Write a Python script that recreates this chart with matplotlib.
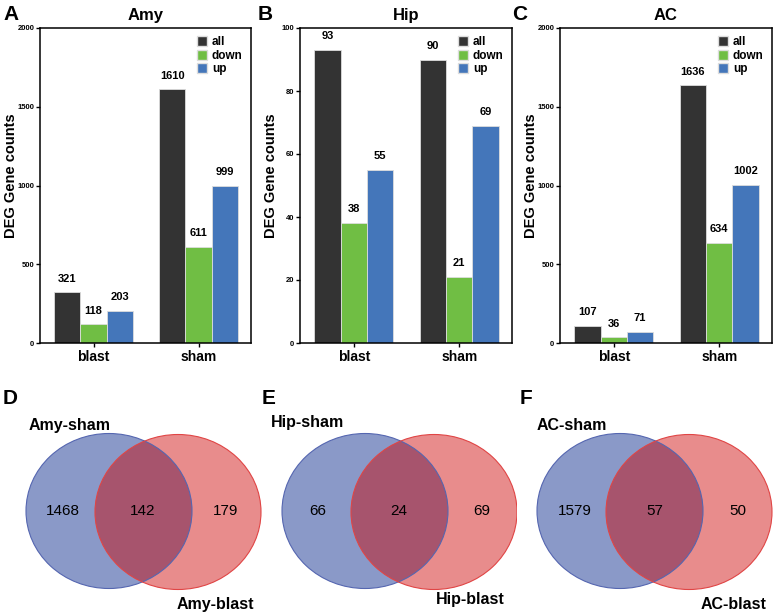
import numpy as np
import matplotlib
matplotlib.use("Agg")
import matplotlib.pyplot as plt
from matplotlib.patches import Ellipse, Patch

plt.rcParams['font.family'] = ['Liberation Sans', 'DejaVu Sans']

groups = ["blast", "sham"]
series = ["all", "down", "up"]
amy = {"all": [321, 1610], "down": [118, 611], "up": [203, 999]}
hip = {"all": [93, 90], "down": [38, 21], "up": [55, 69]}
ac = {"all": [107, 1636], "down": [36, 634], "up": [71, 1002]}
bar_titles = ["Amy", "Hip", "AC"]
bar_ylims = [2000, 100, 2000]
bar_ticks = [[0, 500, 1000, 1500, 2000], [0, 20, 40, 60, 80, 100], [0, 500, 1000, 1500, 2000]]

venn_names = [("Amy-sham", "Amy-blast"), ("Hip-sham", "Hip-blast"), ("AC-sham", "AC-blast")]
venn_counts = [(1468, 142, 179), (66, 24, 69), (1579, 57, 50)]

colors = {"all": "#333333", "down": "#70BE44", "up": "#4476BA"}
W, H = 777, 614
fig = plt.figure(figsize=(W / 100, H / 100), dpi=100)

def px_axes(x0, y0, x1, y1):
    return fig.add_axes([x0 / W, (H - y1) / H, (x1 - x0) / W, (y1 - y0) / H])

bar_boxes = [(40, 28, 251, 343), (300, 28, 512, 343), (560, 28, 772, 343)]
letters_top = ["A", "B", "C"]
letter_x = [3, 258, 512]
x = np.arange(len(groups))
wd = 0.25
for i, data in enumerate([amy, hip, ac]):
    ax = px_axes(*bar_boxes[i])
    for j, s in enumerate(series):
        xs = x + (j - 1) * wd
        ax.bar(xs, data[s], width=wd, color=colors[s], edgecolor="#dddddd",
               linewidth=0.6, label=s)
        for xx, v in zip(xs, data[s]):
            ax.text(xx, v + bar_ylims[i] * 0.028, str(v), ha="center", va="bottom",
                    fontsize=8, fontweight="bold")
    ax.set_xlim(-0.51, 1.5)
    ax.set_ylim(0, bar_ylims[i])
    ax.set_yticks(bar_ticks[i])
    ax.set_xticks(x)
    ax.set_xticklabels(groups, fontsize=10, fontweight="bold")
    for lab in ax.get_yticklabels():
        lab.set_fontsize(5.5)
        lab.set_fontweight("bold")
    ax.tick_params(axis="y", length=3, width=1, pad=1)
    ax.tick_params(axis="x", length=3, width=1, pad=2)
    for sp in ax.spines.values():
        sp.set_linewidth(1.1)
    ax.set_ylabel("DEG Gene counts", fontsize=10.5, fontweight="bold", labelpad=1)
    ax.yaxis.set_label_coords(-0.105, 0.53)
    ax.set_title(bar_titles[i], fontsize=12, fontweight="bold", pad=6)
    handles = [Patch(facecolor=colors[s], edgecolor="#dddddd", label=s) for s in series]
    ax.legend(handles=handles, loc="upper right", frameon=False,
              prop={"weight": "bold", "size": 8.5}, handlelength=0.9, handleheight=0.9,
              handletextpad=0.4, labelspacing=0.12, borderaxespad=0.3)
    fig.text(letter_x[i] / W, 1 - 14 / H, letters_top[i], fontsize=15, fontweight="bold",
             va="center", ha="left")

venn_boxes = [(0, 380, 262, 614), (255, 380, 517, 614), (510, 380, 777, 614)]
venn_geo = [
    dict(b=(109, 511), r=(178, 512), sham=(70, 426), blast=(215, 605), n=(63, 143, 226)),
    dict(b=(365, 511), r=(434, 512), sham=(307, 423), blast=(470, 600), n=(318, 399, 482)),
    dict(b=(620, 511), r=(689, 512), sham=(572, 426), blast=(734, 605), n=(575, 655, 738)),
]
letters_bot = ["D", "E", "F"]
letter_bot_x = [3, 262, 520]
ew, eh = 166, 155
for i in range(3):
    x0, y0, x1, y1 = venn_boxes[i]
    ax = px_axes(x0, y0, x1, y1)
    ax.set_xlim(x0, x1)
    ax.set_ylim(y1, y0)
    ax.axis("off")
    g = venn_geo[i]
    ax.add_patch(Ellipse(g["b"], ew, eh, facecolor="#8A99C8", edgecolor="none"))
    ax.add_patch(Ellipse(g["r"], ew, eh, facecolor="#CC0000", alpha=0.45, edgecolor="none"))
    ax.add_patch(Ellipse(g["b"], ew, eh, facecolor="none", edgecolor="#5566B0", linewidth=0.8))
    ax.add_patch(Ellipse(g["r"], ew, eh, facecolor="none", edgecolor="#E04545", linewidth=0.8))
    for xn, c in zip(g["n"], venn_counts[i]):
        ax.text(xn, 511, str(c), ha="center", va="center", fontsize=11)
    ax.text(g["sham"][0], g["sham"][1], venn_names[i][0], ha="center", va="center",
            fontsize=11.5, fontweight="bold")
    ax.text(g["blast"][0], g["blast"][1], venn_names[i][1], ha="center", va="center",
            fontsize=11.5, fontweight="bold")
    fig.text(letter_bot_x[i] / W, 1 - 398 / H, letters_bot[i], fontsize=15, fontweight="bold",
             va="center", ha="left")

fig.savefig("out.png", dpi=100)
